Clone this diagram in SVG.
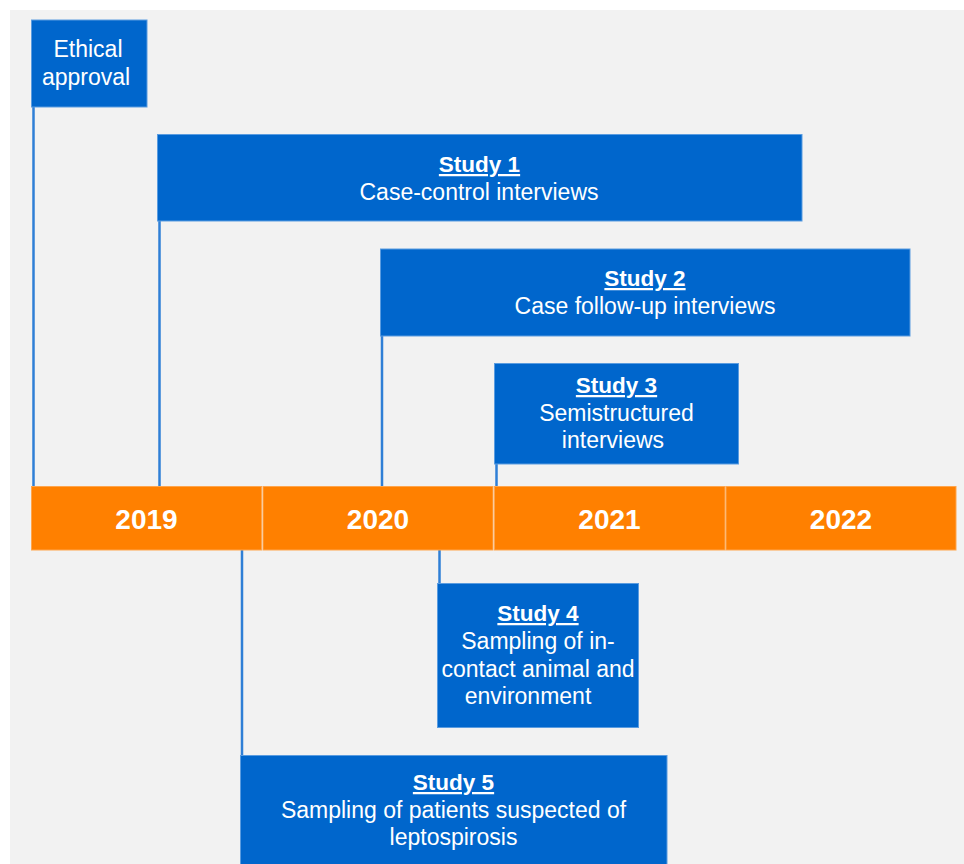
<svg xmlns="http://www.w3.org/2000/svg" width="964" height="864" viewBox="0 0 964 864">
<style>
.bg{fill:#f2f2f2}
.box{fill:#0066cc;stroke:#5a9ce0;stroke-width:1}
.yr{fill:#ff8000;stroke:#ffa54d;stroke-width:1}
.conn{stroke:#2f7fd6;stroke-width:2.5;fill:none}
text{font-family:"Liberation Sans",Arial,sans-serif;fill:#ffffff;text-anchor:middle}
.t{font-size:23px}
.h{font-size:22.5px;font-weight:bold;text-decoration:underline}
.y{font-size:28px;font-weight:bold}
</style>
<rect x="0" y="0" width="964" height="864" fill="#ffffff"/>
<rect class="bg" x="10" y="10" width="954" height="854"/>
<g id="connectors">
<line class="conn" x1="33.5" y1="107" x2="33.5" y2="487"/>
<line class="conn" x1="159.5" y1="221" x2="159.5" y2="487"/>
<line class="conn" x1="382" y1="336" x2="382" y2="487"/>
<line class="conn" x1="496.5" y1="464" x2="496.5" y2="487"/>
<line class="conn" x1="242" y1="550" x2="242" y2="755"/>
<line class="conn" x1="439.5" y1="550" x2="439.5" y2="583"/>
</g>
<g id="timeline">
<g id="y2019"><rect class="yr" x="31.5" y="486.5" width="230" height="63.5"/><text class="y" x="146.5" y="529">2019</text></g>
<g id="y2020"><rect class="yr" x="263" y="486.5" width="230" height="63.5"/><text class="y" x="378" y="529">2020</text></g>
<g id="y2021"><rect class="yr" x="494.5" y="486.5" width="230.5" height="63.5"/><text class="y" x="609.5" y="529">2021</text></g>
<g id="y2022"><rect class="yr" x="726" y="486.5" width="230" height="63.5"/><text class="y" x="841" y="529">2022</text></g>
</g>
<g id="ethical">
<rect class="box" x="31.5" y="20" width="115.5" height="87"/>
<text class="t" x="88" y="57">Ethical</text>
<text class="t" x="86" y="85">approval</text>
</g>
<g id="study1">
<rect class="box" x="157.5" y="134.5" width="644.5" height="86.5"/>
<text class="h" x="479.5" y="172">Study 1</text>
<text class="t" x="479" y="200">Case-control interviews</text>
</g>
<g id="study2">
<rect class="box" x="380.5" y="249" width="529.5" height="87"/>
<text class="h" x="645" y="286">Study 2</text>
<text class="t" x="645" y="314">Case follow-up interviews</text>
</g>
<g id="study3">
<rect class="box" x="494.5" y="363.5" width="244" height="100.5"/>
<text class="h" x="616.5" y="393">Study 3</text>
<text class="t" x="616.5" y="421">Semistructured</text>
<text class="t" x="613" y="448">interviews</text>
</g>
<g id="study4">
<rect class="box" x="437.5" y="583.5" width="201" height="144"/>
<text class="h" x="538" y="621">Study 4</text>
<text class="t" x="538" y="649">Sampling of in-</text>
<text class="t" x="538" y="677">contact animal and</text>
<text class="t" x="528" y="704">environment</text>
</g>
<g id="study5">
<rect class="box" x="240.5" y="755.5" width="426.5" height="112"/>
<text class="h" x="453.5" y="790">Study 5</text>
<text class="t" x="453.5" y="818">Sampling of patients suspected of</text>
<text class="t" x="453.5" y="845">leptospirosis</text>
</g>
</svg>
